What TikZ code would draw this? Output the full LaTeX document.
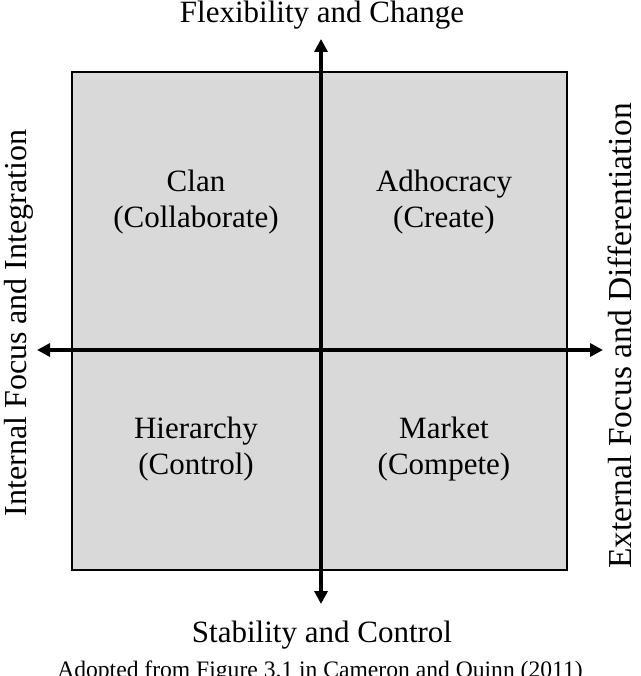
\documentclass[tikz,border=0pt]{standalone}
\usepackage{fontspec}
\setmainfont{Liberation Serif}
\usetikzlibrary{arrows.meta}
\begin{document}
\begin{tikzpicture}[x=1pt,y=-1pt,
  lbl/.style={font=\fontsize{31}{35}\selectfont, inner sep=0pt, anchor=base},
  quad/.style={font=\fontsize{31}{36}\selectfont, inner sep=0pt, anchor=base, align=center},
  captxt/.style={font=\fontsize{23.6}{28}\selectfont, inner sep=0pt, anchor=base},
  axis/.style={line width=4pt, {Triangle[length=13pt,width=13pt]}-{Triangle[length=13pt,width=13pt]}},
  boxst/.style={draw=black, line width=2pt, fill=black!15}]
\useasboundingbox (0,0) rectangle (640,676);
\begin{scope}
\clip (0,0) rectangle (640,676);
\node[boxst, minimum width=495pt, minimum height=497pt, inner sep=0pt] (box) at (319.5,321) {};
\coordinate (top) at (321,39);
\coordinate (bot) at (321,604);
\coordinate (lft) at (37,350);
\coordinate (rgt) at (603,350);
\draw[axis] (bot) -- (top);
\draw[axis] (lft) -- (rgt);
\node[quad] (clan) at (196,192) {Clan};
\node[quad] (clan2) at (196,227) {(Collaborate)};
\node[quad] (adh) at (444,192) {Adhocracy};
\node[quad] (adh2) at (444,227) {(Create)};
\node[quad] (hier) at (196,438) {Hierarchy};
\node[quad] (hier2) at (196,474) {(Control)};
\node[quad] (mkt) at (444,438) {Market};
\node[quad] (mkt2) at (444,474) {(Compete)};
\node[lbl] (flex) at (322,23) {Flexibility and Change};
\node[lbl] (stab) at (322,642) {Stability and Control};
\node[lbl, font=\fontsize{32}{36}\selectfont, rotate=90] (intl) at (26,323) {Internal Focus and Integration};
\node[lbl, font=\fontsize{33.5}{38}\selectfont, rotate=90] (extl) at (631,336) {External Focus and Differentiation};
\node[captxt] (caption) at (320,677) {Adopted from Figure 3.1 in Cameron and Quinn (2011)};
\end{scope}
\end{tikzpicture}
\end{document}
